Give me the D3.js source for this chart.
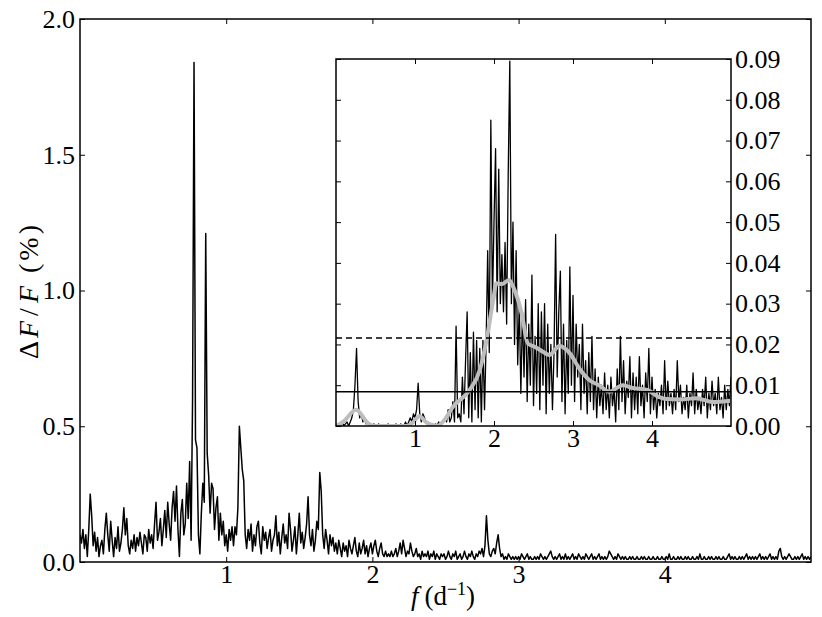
<!DOCTYPE html>
<html><head><meta charset="utf-8">
<script src="https://cdn.jsdelivr.net/npm/d3@7"></script>
<style>body{margin:0;background:#fff}svg{display:block}text{font-family:"Liberation Serif","DejaVu Serif",serif !important;fill:#000}</style>
</head><body>
<script>
// ---------- DATA ----------
// main amplitude spectrum, frequency from 0 to 5 d^-1 in steps of 0.01
const mainStep = 0.01;
const mainAmp = [
0.10,0.07,0.12,0.05,0.10,0.02,0.12,0.25,0.17,0.06,
0.11,0.04,0.09,0.02,0.06,0.08,0.03,0.12,0.18,0.10,
0.04,0.15,0.08,0.02,0.09,0.05,0.13,0.04,0.07,0.12,
0.20,0.10,0.16,0.06,0.03,0.08,0.05,0.10,0.04,0.09,
0.06,0.11,0.07,0.03,0.10,0.09,0.04,0.12,0.07,0.10,
0.05,0.14,0.22,0.08,0.11,0.16,0.06,0.12,0.19,0.09,
0.22,0.14,0.08,0.20,0.26,0.15,0.28,0.12,0.02,0.18,
0.23,0.10,0.14,0.29,0.16,0.37,0.08,0.60,1.84,0.45,
0.42,0.10,0.03,0.18,0.29,0.22,1.21,0.40,0.32,0.18,
0.29,0.27,0.12,0.20,0.24,0.08,0.18,0.10,0.15,0.06,
0.10,0.04,0.12,0.08,0.13,0.06,0.13,0.10,0.20,0.50,
0.42,0.34,0.30,0.10,0.05,0.12,0.08,0.14,0.04,0.10,
0.06,0.13,0.15,0.07,0.03,0.13,0.08,0.11,0.05,0.09,
0.12,0.04,0.08,0.10,0.17,0.06,0.11,0.03,0.09,0.14,
0.07,0.10,0.05,0.18,0.12,0.04,0.08,0.13,0.03,0.10,
0.18,0.07,0.11,0.05,0.09,0.14,0.24,0.10,0.06,0.12,
0.04,0.08,0.15,0.12,0.33,0.26,0.10,0.05,0.12,0.08,
0.03,0.10,0.06,0.09,0.04,0.07,0.03,0.08,0.05,0.02,
0.07,0.04,0.06,0.02,0.08,0.05,0.03,0.06,0.09,0.04,
0.02,0.07,0.03,0.05,0.08,0.03,0.06,0.02,0.05,0.07,
0.03,0.06,0.08,0.04,0.02,0.05,0.07,0.03,0.02,0.04,
0.02,0.03,0.02,0.04,0.02,0.03,0.05,0.02,0.04,0.07,
0.03,0.08,0.05,0.02,0.04,0.03,0.07,0.04,0.02,0.03,
0.05,0.02,0.03,0.01,0.04,0.02,0.03,0.02,0.04,0.01,
0.03,0.02,0.04,0.01,0.03,0.02,0.01,0.03,0.02,0.03,
0.01,0.02,0.04,0.02,0.01,0.03,0.02,0.04,0.01,0.02,
0.03,0.01,0.02,0.04,0.02,0.01,0.03,0.02,0.04,0.02,
0.01,0.03,0.02,0.04,0.03,0.05,0.02,0.06,0.17,0.08,
0.03,0.02,0.04,0.05,0.03,0.07,0.10,0.05,0.02,0.03,
0.01,0.02,0.01,0.03,0.02,0.01,0.02,0.01,0.02,0.01,
0.02,0.01,0.03,0.02,0.01,0.02,0.03,0.01,0.02,0.01,
0.01,0.02,0.01,0.02,0.01,0.03,0.02,0.01,0.02,0.01,
0.02,0.03,0.04,0.02,0.01,0.02,0.01,0.02,0.03,0.01,
0.02,0.01,0.03,0.01,0.02,0.01,0.02,0.03,0.01,0.02,
0.01,0.03,0.02,0.01,0.02,0.01,0.03,0.02,0.01,0.02,
0.03,0.01,0.02,0.01,0.02,0.03,0.01,0.02,0.01,0.02,
0.01,0.02,0.04,0.03,0.02,0.01,0.02,0.01,0.03,0.02,
0.01,0.02,0.01,0.02,0.01,0.01,0.02,0.01,0.02,0.01,
0.01,0.02,0.01,0.01,0.02,0.01,0.02,0.01,0.01,0.02,
0.01,0.01,0.02,0.01,0.01,0.02,0.01,0.01,0.02,0.01,
0.01,0.02,0.01,0.03,0.01,0.01,0.02,0.01,0.01,0.02,
0.01,0.02,0.01,0.01,0.02,0.01,0.02,0.01,0.01,0.02,
0.01,0.01,0.02,0.01,0.03,0.01,0.01,0.02,0.01,0.01,
0.02,0.01,0.02,0.01,0.01,0.02,0.01,0.02,0.01,0.01,
0.02,0.01,0.01,0.02,0.03,0.01,0.02,0.01,0.02,0.01,
0.01,0.02,0.01,0.02,0.01,0.02,0.03,0.01,0.02,0.01,
0.02,0.01,0.02,0.01,0.02,0.03,0.01,0.02,0.01,0.02,
0.01,0.02,0.03,0.01,0.02,0.01,0.02,0.01,0.04,0.05,
0.02,0.01,0.02,0.01,0.02,0.03,0.02,0.01,0.01,0.02,
0.01,0.02,0.01,0.02,0.03,0.01,0.02,0.01,0.02,0.01,0.02
];
// inset residual spectrum, frequency from 0 to 5 d^-1 in steps of 0.02
const insetStep = 0.02;
const insetAmp = [
0,0,0.0005,0,0.001,0,0.0005,0.001,0,0.001,
0.002,0.004,0.010,0.019,0.006,0.002,0.003,0.001,0.002,0.0005,
0.001,0,0.0005,0,0.0005,0,0,0.0005,0,0,
0,0,0,0.0005,0,0,0,0,0.0005,0,
0,0.0005,0,0,0.001,0,0.001,0.002,0.001,0.003,
0.002,0.004,0.0105,0.003,0.001,0.003,0.002,0.001,0.0005,0,
0,0.0005,0,0.0005,0,0.001,0,0.0005,0.001,0.002,
0.001,0.004,0.001,0.002,0.006,0.001,0.0245,0.002,0.003,0.001,
0.012,0.003,0.016,0.028,0.002,0.018,0.001,0.023,0.004,0.021,
0.002,0.019,0.001,0.021,0.004,0.020,0.043,0.018,0.075,0.030,
0.050,0.068,0.028,0.063,0.030,0.042,0.028,0.045,0.025,0.062,
0.0895,0.030,0.050,0.020,0.043,0.015,0.030,0.008,0.028,0.012,
0.031,0.006,0.025,0.010,0.037,0.005,0.022,0.008,0.030,0.004,
0.028,0.010,0.030,0.003,0.025,0.008,0.020,0.004,0.018,0.047,
0.012,0.028,0.038,0.006,0.025,0.003,0.021,0.008,0.039,0.010,
0.032,0.006,0.025,0.012,0.020,0.004,0.025,0.008,0.016,0.003,
0.018,0.006,0.022,0.004,0.014,0.002,0.012,0.005,0.010,0.003,
0.013,0.004,0.010,0.002,0.012,0.005,0.009,0.001,0.014,0.004,
0.022,0.006,0.016,0.003,0.011,0.007,0.017,0.002,0.013,0.004,
0.012,0.003,0.017,0.005,0.010,0.002,0.013,0.006,0.019,0.003,
0.012,0.004,0.009,0.002,0.008,0.005,0.010,0.003,0.016,0.004,
0.011,0.005,0.008,0.003,0.009,0.004,0.016,0.006,0.010,0.003,
0.007,0.004,0.010,0.002,0.008,0.005,0.013,0.003,0.009,0.004,
0.007,0.003,0.009,0.005,0.012,0.002,0.008,0.004,0.011,0.005,
0.008,0.003,0.012,0.004,0.007,0.002,0.010,0.004,0.009,0.005,
0.012
];
// smoothed residual (grey curve)
const smoothFreq = [0,0.1,0.255,0.4,0.47,0.9,0.97,1.055,1.15,1.28,1.36,1.48,1.69,1.82,1.905,1.99,2.03,2.1,2.19,2.25,2.35,2.43,2.52,2.62,2.70,2.83,2.96,3.08,3.21,3.33,3.46,3.63,3.76,3.93,4.09,4.18,4.35,4.56,4.77,5.0];
const smoothAmp  = [0,0.0012,0.004,0.0008,0,0,0.0008,0.0024,0.0008,0,0.0012,0.0047,0.0088,0.0137,0.021,0.0309,0.035,0.0348,0.0358,0.0338,0.0276,0.0202,0.0194,0.0182,0.0174,0.0196,0.0178,0.0141,0.0112,0.010,0.0084,0.010,0.0093,0.0089,0.0071,0.0066,0.0065,0.0068,0.0059,0.0062];
// significance levels in the inset
const levelDashed = 0.0216;
const levelSolid = 0.0084;
// ticks
const mainXTicks = [1,2,3,4];
const mainYTicks = [0,0.5,1.0,1.5,2.0];
const insetXTicks = [1,2,3,4];
const insetYTicks = [0,0.01,0.02,0.03,0.04,0.05,0.06,0.07,0.08,0.09];

// ---------- DRAW ----------
const W = 822, H = 617;
const svg = d3.select("body").append("svg").attr("width", W).attr("height", H);
const FS = 26;
const FONT = "'Liberation Serif', 'DejaVu Serif', serif";

const mx = d3.scaleLinear().domain([0,5]).range([80,811]);
const my = d3.scaleLinear().domain([0,2]).range([562,19]);
const ix = d3.scaleLinear().domain([0,5]).range([336,731]);
const iy = d3.scaleLinear().domain([0,0.09]).range([426,59]);

const defs = svg.append("defs");
defs.append("clipPath").attr("id","cm").append("rect")
  .attr("x",mx(0)).attr("y",my(2)).attr("width",mx(5)-mx(0)).attr("height",my(0)-my(2));
defs.append("clipPath").attr("id","ci").append("rect")
  .attr("x",ix(0)).attr("y",iy(0.09)).attr("width",ix(5)-ix(0)).attr("height",iy(0)-iy(0.09));

// main line
const mainData = mainAmp.map((v,i)=>[i*mainStep, v]);
svg.append("path").datum(mainData).attr("clip-path","url(#cm)")
  .attr("fill","none").attr("stroke","#000").attr("stroke-width",1.5).attr("stroke-linejoin","round")
  .attr("d", d3.line().x(d=>mx(d[0])).y(d=>my(d[1])));

function styleAxis(g, labels){
  g.attr("font-family", FONT).attr("font-size", FS);
  g.select(".domain").remove();
  g.selectAll(".tick line").attr("stroke","#000").attr("stroke-width",1);
  g.selectAll(".tick text").attr("font-family",FONT).attr("font-size",FS).style("font-size",FS+"px").attr("fill","#000");
  if(!labels) g.selectAll(".tick text").remove();
}
const tk = 5;
svg.append("g").attr("transform",`translate(0,${my(0)})`)
  .call(d3.axisBottom(mx).tickValues(mainXTicks).tickFormat(d3.format("d")).tickSizeInner(-tk).tickSizeOuter(0).tickPadding(3))
  .call(g=>styleAxis(g,true));
svg.append("g").attr("transform",`translate(0,${my(2)})`)
  .call(d3.axisTop(mx).tickValues(mainXTicks).tickSizeInner(-tk).tickSizeOuter(0))
  .call(g=>styleAxis(g,false));
svg.append("g").attr("transform",`translate(${mx(0)},0)`)
  .call(d3.axisLeft(my).tickValues(mainYTicks).tickFormat(d3.format(".1f")).tickSizeInner(-tk).tickSizeOuter(0).tickPadding(5))
  .call(g=>styleAxis(g,true));
svg.append("g").attr("transform",`translate(${mx(5)},0)`)
  .call(d3.axisRight(my).tickValues(mainYTicks).tickSizeInner(-tk).tickSizeOuter(0))
  .call(g=>styleAxis(g,false));
svg.append("rect").attr("x",mx(0)).attr("y",my(2)).attr("width",mx(5)-mx(0)).attr("height",my(0)-my(2))
  .attr("fill","none").attr("stroke","#000").attr("stroke-width",1.5);

// axis titles
const yl = svg.append("text").attr("transform","translate(38,290.5) rotate(-90)")
  .attr("text-anchor","middle").attr("font-family",FONT).style("font-size","28px").attr("letter-spacing",3);
yl.append("tspan").text("Δ");
yl.append("tspan").style("font-style","italic").text("F");
yl.append("tspan").attr("dx",2).text("/");
yl.append("tspan").attr("dx",2).style("font-style","italic").text("F");
yl.append("tspan").attr("dx",10).text("(%)");

const xl = svg.append("text").attr("x",443).attr("y",605).attr("text-anchor","middle")
  .attr("font-family",FONT).style("font-size","27px");
xl.append("tspan").style("font-style","italic").text("f");
xl.append("tspan").attr("dx",6).text("(d");
xl.append("tspan").attr("dy",-10).style("font-size","18px").text("−1");
xl.append("tspan").attr("dy",10).text(")");

// inset
svg.append("rect").attr("x",ix(0)).attr("y",iy(0.09)).attr("width",ix(5)-ix(0)).attr("height",iy(0)-iy(0.09))
  .attr("fill","#fff");
const insetData = insetAmp.map((v,i)=>[i*insetStep, v]);
const ig = svg.append("g").attr("clip-path","url(#ci)");
ig.append("path").datum(insetData)
  .attr("fill","none").attr("stroke","#000").attr("stroke-width",1.3).attr("stroke-linejoin","round")
  .attr("d", d3.line().x(d=>ix(d[0])).y(d=>iy(d[1])));
const smoothData = smoothFreq.map((f,i)=>[f, smoothAmp[i]]);
ig.append("path").datum(smoothData)
  .attr("fill","none").attr("stroke","#bdbdbd").attr("stroke-width",4).attr("stroke-linecap","round")
  .attr("d", d3.line().curve(d3.curveMonotoneX).x(d=>ix(d[0])).y(d=>iy(d[1])));
ig.append("line").attr("x1",ix(0)).attr("x2",ix(5)).attr("y1",iy(levelDashed)).attr("y2",iy(levelDashed))
  .attr("stroke","#000").attr("stroke-width",1.5).attr("stroke-dasharray","6,4");
ig.append("line").attr("x1",ix(0)).attr("x2",ix(5)).attr("y1",iy(levelSolid)).attr("y2",iy(levelSolid))
  .attr("stroke","#000").attr("stroke-width",1.5);

svg.append("g").attr("transform",`translate(0,${iy(0)})`)
  .call(d3.axisBottom(ix).tickValues(insetXTicks).tickFormat(d3.format("d")).tickSizeInner(-tk).tickSizeOuter(0).tickPadding(3))
  .call(g=>styleAxis(g,true));
svg.append("g").attr("transform",`translate(0,${iy(0.09)})`)
  .call(d3.axisTop(ix).tickValues(insetXTicks).tickSizeInner(-tk).tickSizeOuter(0))
  .call(g=>styleAxis(g,false));
svg.append("g").attr("transform",`translate(${ix(5)},0)`)
  .call(d3.axisRight(iy).tickValues(insetYTicks).tickFormat(d3.format(".2f")).tickSizeInner(-tk).tickSizeOuter(0).tickPadding(4))
  .call(g=>styleAxis(g,true));
svg.append("g").attr("transform",`translate(${ix(0)},0)`)
  .call(d3.axisLeft(iy).tickValues(insetYTicks).tickSizeInner(-tk).tickSizeOuter(0))
  .call(g=>styleAxis(g,false));
svg.append("rect").attr("x",ix(0)).attr("y",iy(0.09)).attr("width",ix(5)-ix(0)).attr("height",iy(0)-iy(0.09))
  .attr("fill","none").attr("stroke","#000").attr("stroke-width",1.5);
</script>
</body></html>
